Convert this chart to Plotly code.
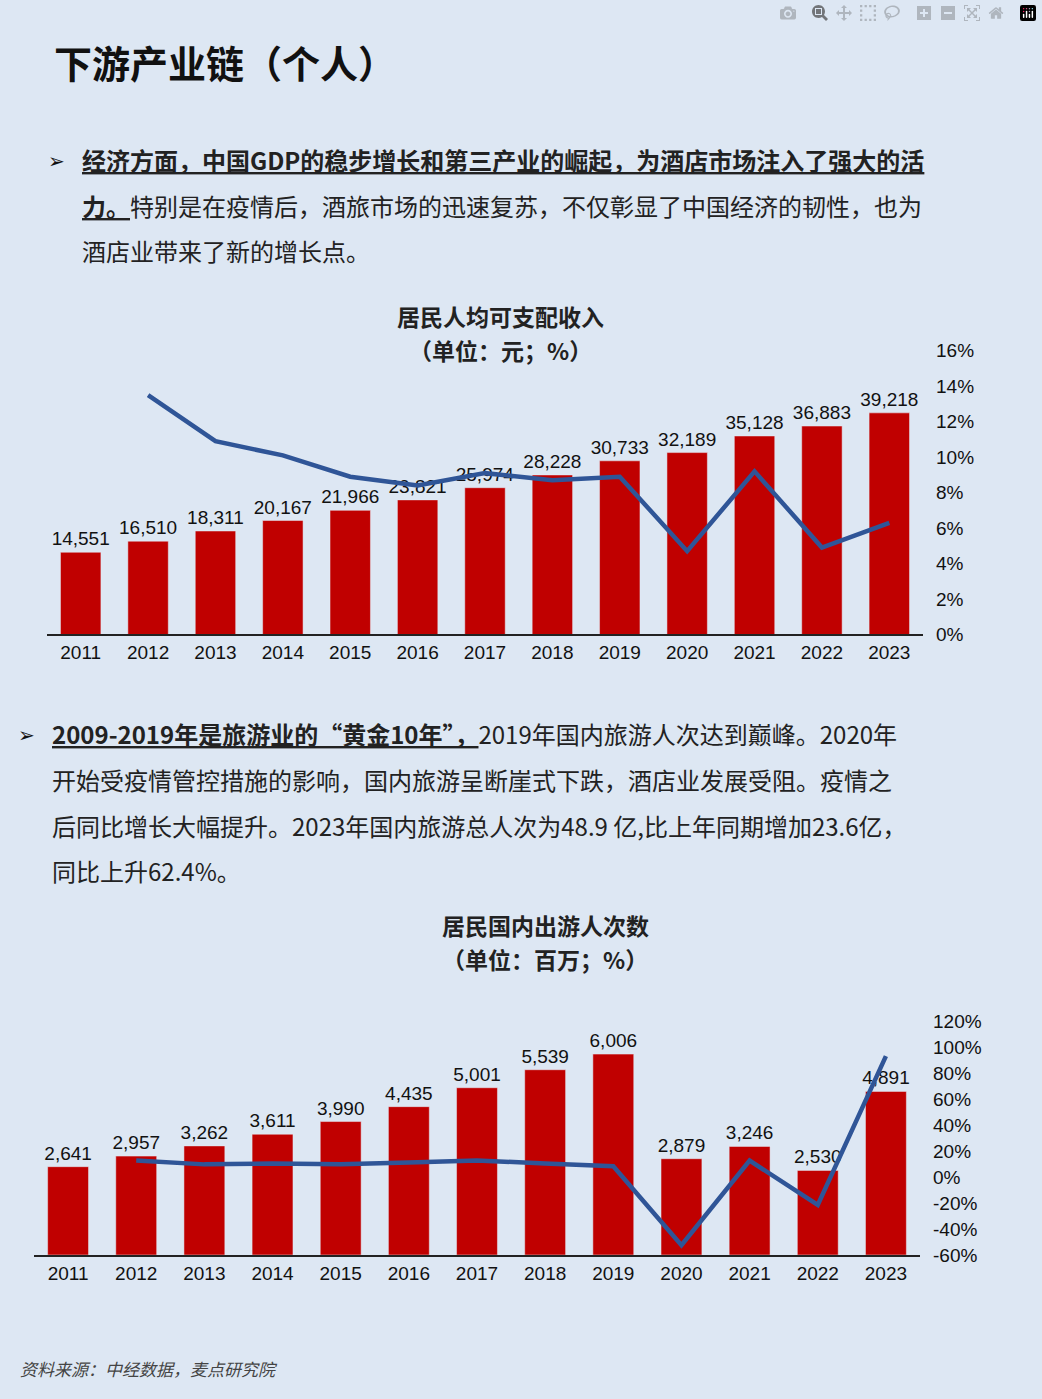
import plotly.graph_objects as go

years = [str(y) for y in range(2011, 2024)]
income = [14551, 16510, 18311, 20167, 21966, 23821, 25974, 28228, 30733, 32189, 35128, 36883, 39218]
income_growth = [None, 13.5, 10.9, 10.1, 8.9, 8.4, 9.1, 8.7, 8.9, 4.7, 9.2, 4.9, 6.3]
trips = [2641, 2957, 3262, 3611, 3990, 4435, 5001, 5539, 6006, 2879, 3246, 2530, 4891]
trips_growth = [None, 12.9, 9.9, 10.6, 9.9, 11.4, 12.9, 10.6, 8.4, -52.4, 12.8, -21.3, 93.4]

W, H = 1042, 1399
BG = "#dde7f3"
RED = "#c00000"
BLUE = "#2f5597"
FONT = "Noto Sans CJK SC"

def py(p):
    return 1 - p / H

fig = go.Figure()
fig.add_trace(go.Bar(x=years, y=income, text=[f"{v:,}" for v in income], textposition="outside",
                     cliponaxis=False, constraintext="none", marker_color=RED, width=0.6,
                     xaxis="x", yaxis="y", textfont=dict(size=19, color="#111", family="Arial")))
fig.add_trace(go.Scatter(x=years, y=income_growth, mode="lines", line=dict(color=BLUE, width=4.5),
                         xaxis="x", yaxis="y2"))
fig.add_trace(go.Bar(x=years, y=trips, text=[f"{v:,}" for v in trips], textposition="outside",
                     cliponaxis=False, constraintext="none", marker_color=RED, width=0.6,
                     xaxis="x2", yaxis="y3", textfont=dict(size=19, color="#111", family="Arial")))
fig.add_trace(go.Scatter(x=years, y=trips_growth, mode="lines", line=dict(color=BLUE, width=4.5),
                         xaxis="x2", yaxis="y4"))

tick = dict(size=19, color="#111", family="Arial")
fig.update_layout(
    width=W, height=H, margin=dict(l=0, r=0, t=0, b=0),
    paper_bgcolor=BG, plot_bgcolor="rgba(0,0,0,0)", showlegend=False,
    font=dict(family=FONT),
    xaxis=dict(domain=[47 / W, 923 / W], anchor="y", showline=True, linecolor="#222", linewidth=2,
               tickfont=tick, ticks=""),
    yaxis=dict(domain=[py(634), py(346)], range=[0, 50200], visible=False),
    yaxis2=dict(overlaying="y", anchor="free", position=935 / W, side="right", range=[0, 16],
                tickvals=list(range(0, 17, 2)), ticktext=[f"{v}%" for v in range(0, 17, 2)],
                showgrid=False, zeroline=False, tickfont=tick),
    xaxis2=dict(domain=[34 / W, 920 / W], anchor="y3", showline=True, linecolor="#222", linewidth=2,
                tickfont=tick, ticks=""),
    yaxis3=dict(domain=[py(1264), py(1027)], range=[0, 6978], visible=False),
    yaxis4=dict(overlaying="y3", anchor="free", position=932 / W, side="right", range=[-60, 120],
                tickvals=list(range(-60, 121, 20)), ticktext=[f"{v}%" for v in range(-60, 121, 20)],
                showgrid=False, zeroline=False, tickfont=tick),
)

def txt(x, y, s, size=24, color="#222", xanchor="left", yanchor="middle", family=FONT):
    fig.add_annotation(x=x / W, y=py(y), xref="paper", yref="paper", text=s, showarrow=False,
                       xanchor=xanchor, yanchor=yanchor, align="left",
                       font=dict(size=size, color=color, family=family))

U = '<span style="text-decoration:underline">'
txt(52, 52, "<b>下游产业链（个人）</b>", size=38, color="#111")
txt(46, 152, "➢", size=20, color="#111")
txt(80, 152, U + "<b>经济方面，中国GDP的稳步增长和第三产业的崛起，为酒店市场注入了强大的活</b></span>")
txt(80, 198, U + "<b>力。</b></span>特别是在疫情后，酒旅市场的迅速复苏，不仅彰显了中国经济的韧性，也为")
txt(80, 244, "酒店业带来了新的增长点。")
txt(500, 311, "<b>居民人均可支配收入</b>", size=23, xanchor="center")
txt(500, 345, "<b>（单位：元；%）</b>", size=23, xanchor="center")

txt(16, 735, "➢", size=20, color="#111")
txt(50, 735, U + "<b>2009-2019年是旅游业的“黄金10年”，</b></span>2019年国内旅游人次达到巅峰。2020年")
txt(50, 781, "开始受疫情管控措施的影响，国内旅游呈断崖式下跌，酒店业发展受阻。疫情之")
txt(50, 828, "后同比增长大幅提升。2023年国内旅游总人次为48.9 亿,比上年同期增加23.6亿，")
txt(50, 874, "同比上升62.4%。")
txt(545, 929, "<b>居民国内出游人次数</b>", size=23, xanchor="center")
txt(545, 963, "<b>（单位：百万；%）</b>", size=23, xanchor="center")

txt(18, 1379, "<i>资料来源：中经数据，麦点研究院</i>", size=17, color="#444")

fig.write_html("out.html", post_script="document.body.style.margin='0';document.body.style.background='" + BG + "';")
